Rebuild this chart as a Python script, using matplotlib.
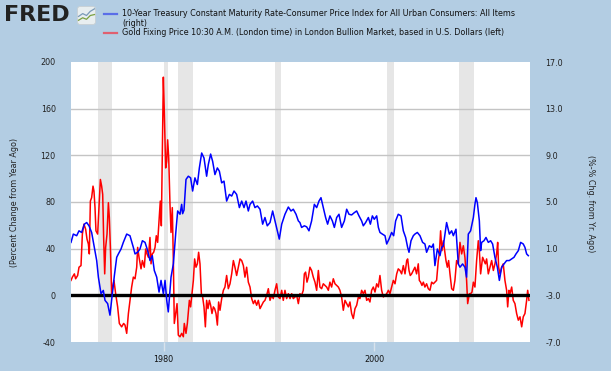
import matplotlib
matplotlib.use("Agg")
import matplotlib.pyplot as plt
from matplotlib.patches import FancyBboxPatch

# ---------------- data ----------------
blue_years = [1971.20, 1971.42, 1971.74, 1971.96, 1972.21, 1972.47, 1972.69, 1972.91, 1973.16, 1973.42,
              1973.64, 1973.80, 1974.05, 1974.27, 1974.43, 1974.68, 1974.90, 1975.06, 1975.32, 1975.54,
              1975.70, 1975.95, 1976.17, 1976.49, 1976.80, 1977.12, 1977.28, 1977.53, 1977.75, 1977.98,
              1978.23, 1978.48, 1978.70, 1978.92, 1979.11, 1979.34, 1979.56, 1979.75, 1979.97, 1980.13,
              1980.29, 1980.44, 1980.70, 1980.92, 1981.14, 1981.33, 1981.55, 1981.71, 1981.80, 1981.93,
              1982.12, 1982.34, 1982.56, 1982.75, 1982.97, 1983.20, 1983.39, 1983.61, 1983.83, 1984.08,
              1984.24, 1984.46, 1984.65, 1984.87, 1985.10, 1985.29, 1985.51, 1985.73, 1985.98, 1986.24,
              1986.46, 1986.68, 1986.93, 1987.19, 1987.41, 1987.63, 1987.82, 1988.04, 1988.20, 1988.45,
              1988.67, 1988.90, 1989.15, 1989.40, 1989.62, 1989.84, 1990.10, 1990.35, 1990.57, 1990.79,
              1990.98, 1991.21, 1991.52, 1991.84, 1992.09, 1992.31, 1992.57, 1992.79, 1992.94, 1993.10,
              1993.36, 1993.58, 1993.80, 1994.05, 1994.31, 1994.53, 1994.75, 1994.94, 1995.16, 1995.38,
              1995.57, 1995.79, 1996.02, 1996.21, 1996.43, 1996.65, 1996.90, 1997.16, 1997.38, 1997.60,
              1997.85, 1998.11, 1998.33, 1998.55, 1998.80, 1998.96, 1999.18, 1999.44, 1999.63, 1999.82,
              2000.00, 2000.23, 2000.39, 2000.54, 2000.77, 2001.02, 2001.18, 2001.40, 2001.65, 2001.84,
              2002.03, 2002.28, 2002.54, 2002.76, 2002.98, 2003.17, 2003.30, 2003.49, 2003.71, 2003.86,
              2004.09, 2004.34, 2004.59, 2004.81, 2004.97, 2005.23, 2005.45, 2005.61, 2005.76, 2005.99,
              2006.24, 2006.40, 2006.56, 2006.87, 2007.13, 2007.35, 2007.51, 2007.76, 2007.98, 2008.14,
              2008.39, 2008.61, 2008.77, 2008.93, 2009.15, 2009.41, 2009.56, 2009.66, 2009.79, 2009.98,
              2010.10, 2010.20, 2010.42, 2010.61, 2010.83, 2011.05, 2011.24, 2011.46, 2011.69, 2011.88,
              2012.10, 2012.32, 2012.57, 2012.82, 2013.05, 2013.27, 2013.46, 2013.68, 2013.90, 2014.15,
              2014.31, 2014.47, 2014.63]
blue_values = [1.54, 2.25, 2.11, 2.53, 2.39, 3.10, 3.24, 2.96, 2.39, 1.11,
               -0.02, -1.44, -2.86, -2.58, -3.43, -3.71, -4.70, -3.43, -1.30, 0.26,
               0.55, 0.97, 1.54, 2.25, 2.11, 1.11, 0.55, 0.69, 0.97, 1.68,
               1.54, 0.83, -0.02, 0.40, -0.87, -1.44, -2.72, -1.72, -2.86, -1.72,
               -3.43, -4.42, -1.44, -0.31, 2.25, 4.23, 3.95, 4.80, 4.00, 4.30,
               6.93, 7.21, 7.07, 5.94, 7.07, 6.50, 7.92, 9.20, 8.77, 7.21,
               8.21, 9.11, 8.49, 7.35, 7.92, 7.64, 6.64, 6.79, 5.08, 5.65,
               5.51, 5.94, 5.65, 4.52, 5.08, 4.52, 5.08, 4.23, 4.80, 5.08,
               4.52, 4.66, 4.38, 3.10, 3.67, 2.96, 3.24, 4.23, 3.38, 2.53,
               1.82, 3.10, 3.95, 4.57, 4.23, 4.38, 3.95, 3.38, 3.24, 2.82,
               2.96, 2.87, 2.53, 3.38, 4.80, 4.52, 5.08, 5.37, 4.52, 3.67,
               3.10, 3.81, 3.38, 2.82, 3.67, 3.95, 2.82, 3.38, 4.38, 3.95,
               3.89, 4.09, 4.23, 3.81, 3.38, 2.96, 3.24, 3.67, 3.10, 3.81,
               3.52, 3.81, 2.82, 2.39, 2.25, 2.11, 1.40, 1.82, 2.39, 2.11,
               3.38, 3.95, 3.81, 2.53, 1.96, 1.11, 0.69, 1.68, 2.11, 2.25,
               2.39, 2.11, 1.54, 1.40, 0.69, 1.25, 1.11, 1.40, -0.45, 0.97,
               0.40, 1.11, 1.25, 3.24, 2.25, 2.53, 2.11, 2.67, -0.31, -0.59,
               -0.31, -0.59, -1.44, 2.25, 2.53, 3.67, 4.80, 5.37, 4.94, 3.38,
               0.83, 1.54, 1.68, 1.96, 1.54, 1.68, 1.40, 0.26, -0.59, -1.72,
               -0.59, -0.31, -0.02, -0.02, 0.12, 0.26, 0.55, 0.83, 1.54, 1.40,
               1.11, 0.55, 0.40]

red_years = [1971.20, 1971.33, 1971.52, 1971.64, 1971.83, 1971.96, 1972.15, 1972.28, 1972.43, 1972.59,
             1972.72, 1972.85, 1972.94, 1973.04, 1973.16, 1973.29, 1973.38, 1973.48, 1973.57, 1973.73,
             1973.86, 1973.99, 1974.11, 1974.21, 1974.30, 1974.40, 1974.49, 1974.62, 1974.75, 1974.84,
             1974.94, 1975.06, 1975.16, 1975.28, 1975.44, 1975.63, 1975.79, 1976.01, 1976.20, 1976.33,
             1976.49, 1976.65, 1976.80, 1976.96, 1977.12, 1977.28, 1977.44, 1977.53, 1977.66, 1977.85,
             1977.98, 1978.16, 1978.29, 1978.42, 1978.55, 1978.70, 1978.80, 1978.92, 1979.05, 1979.18,
             1979.30, 1979.43, 1979.56, 1979.68, 1979.78, 1979.87, 1979.97, 1980.06, 1980.19, 1980.29,
             1980.38, 1980.48, 1980.60, 1980.70, 1980.82, 1980.92, 1981.01, 1981.14, 1981.27, 1981.39,
             1981.55, 1981.71, 1981.87, 1981.96, 1982.12, 1982.25, 1982.44, 1982.56, 1982.69, 1982.82,
             1982.94, 1983.07, 1983.20, 1983.32, 1983.45, 1983.58, 1983.70, 1983.83, 1983.96, 1984.08,
             1984.21, 1984.34, 1984.46, 1984.59, 1984.72, 1984.84, 1984.97, 1985.10, 1985.22, 1985.35,
             1985.51, 1985.67, 1985.82, 1985.98, 1986.14, 1986.30, 1986.46, 1986.62, 1986.77, 1986.93,
             1987.09, 1987.25, 1987.41, 1987.57, 1987.72, 1987.88, 1988.04, 1988.20, 1988.36, 1988.52,
             1988.67, 1988.83, 1988.99, 1989.15, 1989.31, 1989.47, 1989.62, 1989.78, 1989.94, 1990.10,
             1990.26, 1990.41, 1990.57, 1990.73, 1990.89, 1991.05, 1991.21, 1991.36, 1991.52, 1991.68,
             1991.84, 1992.00, 1992.16, 1992.31, 1992.47, 1992.63, 1992.79, 1992.94, 1993.10, 1993.26,
             1993.36, 1993.48, 1993.61, 1993.74, 1993.89, 1994.05, 1994.21, 1994.37, 1994.53, 1994.69,
             1994.84, 1995.00, 1995.16, 1995.32, 1995.48, 1995.64, 1995.79, 1995.95, 1996.11, 1996.27,
             1996.43, 1996.59, 1996.74, 1996.90, 1997.06, 1997.22, 1997.38, 1997.54, 1997.69, 1997.85,
             1998.01, 1998.17, 1998.33, 1998.49, 1998.64, 1998.80, 1998.96, 1999.12, 1999.28, 1999.44,
             1999.59, 1999.75, 1999.91, 2000.07, 2000.23, 2000.39, 2000.54, 2000.70, 2000.86, 2001.02,
             2001.18, 2001.34, 2001.49, 2001.65, 2001.81, 2001.97, 2002.13, 2002.28, 2002.44, 2002.60,
             2002.76, 2002.92, 2003.08, 2003.17, 2003.30, 2003.42, 2003.55, 2003.71, 2003.86, 2004.02,
             2004.18, 2004.28, 2004.40, 2004.53, 2004.66, 2004.81, 2004.97, 2005.13, 2005.29, 2005.45,
             2005.61, 2005.76, 2005.92, 2006.08, 2006.18, 2006.30, 2006.43, 2006.56, 2006.68, 2006.81,
             2006.94, 2007.06, 2007.19, 2007.35, 2007.51, 2007.66, 2007.82, 2007.98, 2008.14, 2008.30,
             2008.46, 2008.61, 2008.77, 2008.87, 2009.03, 2009.15, 2009.28, 2009.41, 2009.56, 2009.72,
             2009.88, 2009.98, 2010.10, 2010.29, 2010.42, 2010.55, 2010.67, 2010.83, 2010.99, 2011.15,
             2011.31, 2011.46, 2011.62, 2011.72, 2011.81, 2011.94, 2012.10, 2012.25, 2012.41, 2012.57,
             2012.67, 2012.79, 2012.89, 2013.05, 2013.20, 2013.36, 2013.52, 2013.68, 2013.84, 2014.00,
             2014.15, 2014.31, 2014.47, 2014.57, 2014.69]
red_values = [12.8, 15.6, 18.4, 14.2, 17.0, 24.1, 25.5, 52.5, 61.0, 56.7,
              48.2, 44.0, 35.5, 80.8, 83.7, 93.6, 89.4, 75.2, 55.3, 52.5,
              75.2, 99.3, 93.6, 86.5, 49.6, 18.4, 41.1, 52.5, 79.4, 66.7,
              41.1, 1.4, 7.1, 12.8, 1.4, -9.9, -24.1, -27.0, -24.1, -25.5,
              -32.6, -15.6, -4.3, 7.1, 15.6, 14.2, 24.1, 41.1, 32.6, 22.7,
              29.8, 24.1, 39.7, 35.5, 32.6, 49.6, 27.0, 35.5, 36.9, 41.1,
              51.1, 45.4, 63.8, 80.8, 59.6, 117.7, 187.0, 157.4, 109.2, 114.9,
              133.3, 117.7, 78.0, 53.9, 75.2, 29.8, -24.1, -15.6, -7.1, -34.1,
              -35.5, -32.6, -35.5, -24.1, -32.6, -24.1, -4.3, -9.9, 1.4, 12.8,
              31.2, 24.1, 27.0, 36.9, 27.0, 1.4, -1.4, -9.9, -27.0, -4.3,
              -11.4, -4.3, -8.5, -15.6, -9.9, -11.4, -15.6, -25.5, -5.7, -12.8,
              -2.8, 4.3, 7.1, 17.0, 5.7, 9.9, 18.4, 29.8, 24.1, 17.0,
              24.1, 31.2, 29.8, 25.5, 15.6, 24.1, 11.3, 7.1, -2.8, -7.1,
              -4.3, -8.5, -4.3, -11.4, -8.5, -5.7, -4.3, 0.0, 5.7, -4.3,
              0.0, -2.8, 4.3, 9.9, -1.4, -2.8, 4.3, -4.3, 4.3, -2.8,
              1.4, -2.8, 1.4, -2.8, -1.4, 0.0, -7.1, 1.4, 0.0, 4.3,
              18.4, 19.9, 11.3, 15.6, 24.1, 21.3, 15.6, 11.3, 4.3, 21.3,
              7.1, 5.7, 9.9, 8.5, 7.1, 4.3, 11.3, 7.1, 14.2, 9.9,
              8.5, 7.1, 4.3, -1.4, -12.8, -4.3, -7.1, -9.9, -5.7, -15.6,
              -19.9, -11.4, -8.5, -1.4, -2.8, 4.3, 1.4, 4.3, -4.3, -2.8,
              -5.7, 4.3, 7.1, 2.8, 9.9, 7.1, 17.0, 4.3, -1.4, 0.0,
              1.4, 4.3, 1.4, 7.1, 12.8, 9.9, 18.4, 22.7, 21.3, 18.4,
              25.5, 18.4, 29.8, 31.2, 21.3, 17.0, 18.4, 21.3, 24.1, 18.4,
              27.0, 12.8, 11.3, 8.5, 11.3, 7.1, 9.9, 5.7, 4.3, 11.3,
              9.9, 11.3, 12.8, 29.8, 35.5, 55.3, 38.3, 46.8, 38.3, 29.8,
              24.1, 29.8, 18.4, 5.7, 4.3, 12.8, 29.8, 27.0, 45.4, 35.5,
              42.5, 32.6, 12.8, -7.1, 1.4, 1.4, 2.8, 11.3, 7.1, 29.8,
              46.8, 38.3, 18.4, 32.6, 29.8, 27.0, 31.2, 18.4, 24.1, 29.8,
              21.3, 27.0, 35.5, 45.4, 24.1, 18.4, 24.1, 27.0, 12.8, 4.3,
              -9.9, 4.3, 1.4, 7.1, -4.3, -7.1, -15.6, -21.3, -18.4, -27.0,
              -18.4, -15.6, -4.3, 4.3, -4.3]

recessions = [(1973.75, 1975.05), (1980.0, 1980.45), (1981.4, 1982.8),
              (1990.55, 1991.15), (2001.2, 2001.88), (2008.0, 2009.45)]

left_ticks = [-40, 0, 40, 80, 120, 160, 200]
left_labels = ["-40", "0", "40", "80", "120", "160", "200"]
right_ticks = [-7, -3, 1, 5, 9, 13, 17]
right_labels = ["-7.0", "-3.0", "1.0", "5.0", "9.0", "13.0", "17.0"]
x_ticks = [1980, 2000]
x_labels = ["1980", "2000"]

blue_name = ("10-Year Treasury Constant Maturity Rate-Consumer Price Index for All Urban Consumers: All Items\n"
             "(right)")
red_name = "Gold Fixing Price 10:30 A.M. (London time) in London Bullion Market, based in U.S. Dollars (left)"

# ---------------- figure ----------------
BG = "#b3cde3"
W, H = 611, 371
fig = plt.figure(figsize=(W / 100, H / 100), dpi=100, facecolor=BG)

L, R, T, B = 71, 530, 62, 342
ax = fig.add_axes([L / W, 1 - B / H, (R - L) / W, (B - T) / H])
ax.set_facecolor("white")
ax.set_xlim(1971.2, 2014.79)
ax.set_ylim(-40, 200)

for a, b in recessions:
    ax.axvspan(a, b, color="#e6e6e6", lw=0, zorder=0)
for g in [40, 80, 120, 160]:
    ax.axhline(g, color="#c4c4c4", lw=1, zorder=1)

ax.plot(red_years, red_values, color="#ff0000", lw=1.1, zorder=3)
ax.axhline(0, color="black", lw=2.4, zorder=4)

ax2 = ax.twinx()
ax2.set_ylim(-7, 17)
ax2.plot(blue_years, blue_values, color="#0000ff", lw=1.1, zorder=3)

fs = 5.8
for a in (ax, ax2):
    for s in a.spines.values():
        s.set_visible(False)

ax.set_yticks(left_ticks)
ax.set_yticklabels(left_labels, fontsize=fs, color="#222222")
ax.tick_params(axis="y", length=0, pad=11)
ax2.set_yticks(right_ticks)
ax2.set_yticklabels(right_labels, fontsize=fs, color="#222222")
ax2.tick_params(axis="y", length=0, pad=11)
ax.set_xticks(x_ticks)
ax.set_xticklabels(x_labels, fontsize=fs, color="#111111")
ax.tick_params(axis="x", length=6.5, color="#d8e2ec", width=1, pad=3)

fig.text(15 / W, 1 - 202 / H, "(Percent Change from Year Ago)", rotation=90,
         ha="center", va="center", fontsize=fs, color="#222222")
fig.text(590 / W, 1 - 204 / H, "(%-% Chg. from Yr. Ago)", rotation=270,
         ha="center", va="center", fontsize=fs, color="#222222")

# logo
fig.text(4 / W, 1 - 15 / H, "FRED", fontsize=16, fontweight="heavy", color="#222222",
         ha="left", va="center", family="DejaVu Sans")
iax = fig.add_axes([77 / W, 1 - 25 / H, 19 / W, 19 / H])
iax.set_xlim(0, 1); iax.set_ylim(0, 1)
iax.add_patch(FancyBboxPatch((0.03, 0.03), 0.94, 0.94, boxstyle="round,pad=0,rounding_size=0.12",
                             facecolor="#e8eef0", edgecolor="#c8d0d4", lw=0.6))
iax.plot([0.08, 0.3, 0.5, 0.7, 0.92], [0.45, 0.6, 0.5, 0.72, 0.85], color="#7a9ab8", lw=0.9)
iax.plot([0.08, 0.3, 0.5, 0.7, 0.92], [0.25, 0.38, 0.3, 0.5, 0.55], color="#7aa040", lw=0.9)
iax.axis("off")

# legend
fig.add_artist(plt.Line2D([104 / W, 117 / W], [1 - 14 / H, 1 - 14 / H], color="#5a6ee8", lw=1.6))
fig.add_artist(plt.Line2D([104 / W, 117 / W], [1 - 33 / H, 1 - 33 / H], color="#e06070", lw=1.6))
fig.text(122 / W, 1 - 8.5 / H, blue_name, fontsize=fs, color="#111111", ha="left", va="top",
         linespacing=1.25)
fig.text(122 / W, 1 - 32.5 / H, red_name, fontsize=fs, color="#111111", ha="left", va="center")

fig.savefig("out.png", dpi=100, facecolor=BG)
